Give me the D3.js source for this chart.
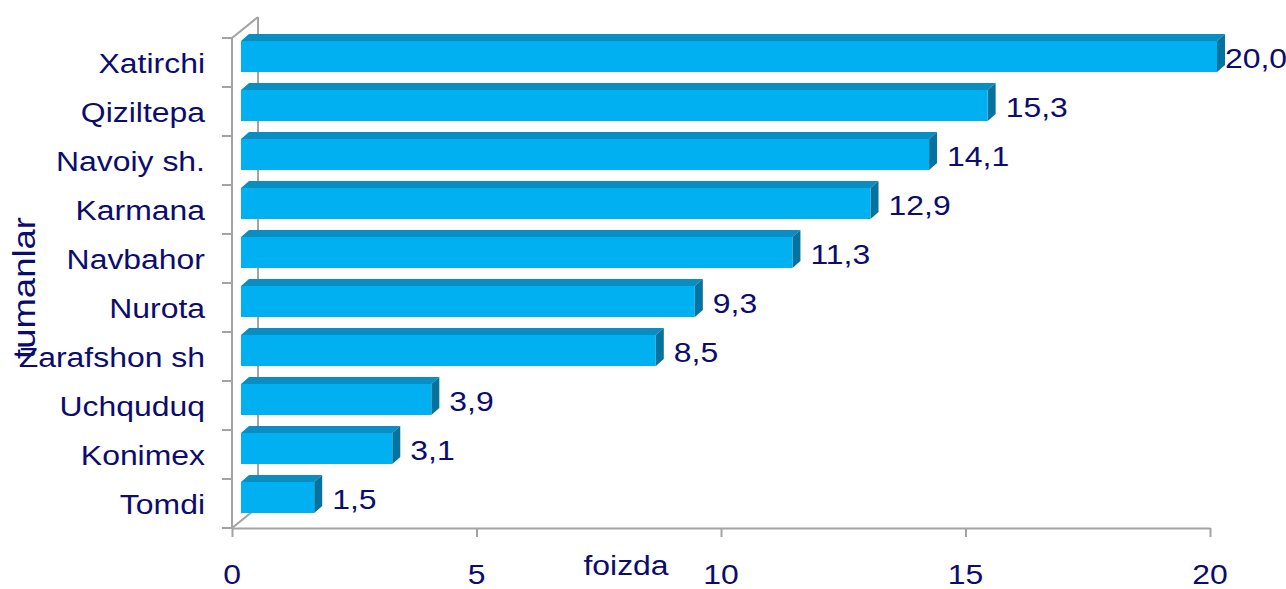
<!DOCTYPE html>
<html>
<head>
<meta charset="utf-8">
<script src="https://cdn.jsdelivr.net/npm/d3@7"></script>
<style>
  body { margin: 0; background: #fff; }
  text { font-family: "Liberation Sans", Arial, sans-serif; fill: #0c0c6e; }
</style>
</head>
<body>
<div id="chart"></div>
<script>
// donnees
const categories = ["Xatirchi", "Qiziltepa", "Navoiy sh.", "Karmana", "Navbahor",
    "Nurota", "Zarafshon sh", "Uchquduq", "Konimex", "Tomdi"];
const values = [20.0, 15.3, 14.1, 12.9, 11.3, 9.3, 8.5, 3.9, 3.1, 1.5];
const valueLabels = ["20,0", "15,3", "14,1", "12,9", "11,3", "9,3", "8,5", "3,9", "3,1", "1,5"];
const xTicks = [0, 5, 10, 15, 20];

const W = 1286, H = 589;
const stretch = 1.14;            // texte un peu elargi comme dans l'original
const depth = {dx: 8, dy: -7};   // profondeur 3D des barres
const wall = {dx: 26, dy: -21};  // profondeur du mur du fond

const svg = d3.select("#chart").append("svg")
    .attr("width", W)
    .attr("height", H);

// echelles
const x = d3.scaleLinear().domain([0, 20]).range([232, 1210]);     // axe avant
const xBar = d3.scaleLinear().domain([0, 20]).range([241, 1217]);  // plan des barres
const y = d3.scaleBand().domain(categories).range([38, 528]).paddingInner(0);

const grey = "#a3a3a3";

// mur du fond + aretes
const g3d = svg.append("g").attr("stroke", grey).attr("stroke-width", 2).attr("fill", "none");
g3d.append("line")
    .attr("x1", x(0) + wall.dx).attr("y1", y.range()[0] + wall.dy)
    .attr("x2", x(0) + wall.dx).attr("y2", y.range()[1] + wall.dy);
g3d.append("line")
    .attr("x1", x(0)).attr("y1", y.range()[0])
    .attr("x2", x(0) + wall.dx).attr("y2", y.range()[0] + wall.dy);
g3d.append("line")
    .attr("x1", x(0)).attr("y1", y.range()[1])
    .attr("x2", x(0) + wall.dx).attr("y2", y.range()[1] + wall.dy);

// barres 3D
const bh = 31;
const bars = svg.append("g").selectAll("g")
    .data(categories)
    .join("g");

bars.each(function(c, i) {
    const g = d3.select(this);
    const x0 = xBar(0), x1 = xBar(values[i]);
    const y0 = y(c) + 3;
    // dessus
    g.append("polygon")
        .attr("points", [[x0, y0], [x0 + depth.dx, y0 + depth.dy],
            [x1 + depth.dx, y0 + depth.dy], [x1, y0]].join(" "))
        .attr("fill", "#0a8dc0");
    // cote
    g.append("polygon")
        .attr("points", [[x1, y0], [x1 + depth.dx, y0 + depth.dy],
            [x1 + depth.dx, y0 + bh + depth.dy], [x1, y0 + bh]].join(" "))
        .attr("fill", "#06739e");
    // face
    g.append("rect")
        .attr("x", x0).attr("y", y0)
        .attr("width", x1 - x0).attr("height", bh)
        .attr("fill", "#00b0f0");
});

// axe vertical avant avec graduations aux limites des categories
const gl = svg.append("g").attr("stroke", grey).attr("stroke-width", 2);
gl.append("line")
    .attr("x1", x(0)).attr("x2", x(0))
    .attr("y1", y.range()[0]).attr("y2", y.range()[1]);
const bounds = categories.map(c => y(c)).concat([y.range()[1]]);
gl.selectAll(".tk").data(bounds).join("line")
    .attr("x1", x(0) - 10).attr("x2", x(0))
    .attr("y1", d => d).attr("y2", d => d);

// axe horizontal
const xAxis = svg.append("g")
    .attr("transform", `translate(0,${y.range()[1]})`)
    .call(d3.axisBottom(x).tickValues(xTicks).tickSize(9).tickSizeOuter(0).tickFormat(""));
xAxis.select(".domain").attr("stroke", grey).attr("stroke-width", 2);
xAxis.selectAll(".tick line").attr("stroke", grey).attr("stroke-width", 2);

svg.append("g").selectAll("text")
    .data(xTicks)
    .join("text")
    .attr("transform", d => `translate(${x(d)},584) scale(${stretch},1)`)
    .attr("text-anchor", "middle")
    .attr("font-size", 28)
    .text(d => d);

// noms des categories
svg.append("g").selectAll("text")
    .data(categories)
    .join("text")
    .attr("transform", c => `translate(205,${y(c) + y.bandwidth() / 2 + 10.5}) scale(${stretch},1)`)
    .attr("text-anchor", "end")
    .attr("font-size", 28)
    .text(c => c);

// valeurs
svg.append("g").selectAll("text")
    .data(categories)
    .join("text")
    .attr("transform", (c, i) => `translate(${Math.min(xBar(values[i]) + 18, 1225)},${y(c) + 3 + bh / 2 + 11}) scale(${stretch},1)`)
    .attr("font-size", 28)
    .text((c, i) => valueLabels[i]);

// titres des axes
svg.append("text")
    .attr("transform", `translate(35,288) rotate(-90) scale(${stretch},1)`)
    .attr("text-anchor", "middle")
    .attr("font-size", 32)
    .text("tumanlar");

svg.append("text")
    .attr("transform", `translate(626,575) scale(${stretch},1)`)
    .attr("text-anchor", "middle")
    .attr("font-size", 28)
    .text("foizda");
</script>
</body>
</html>
